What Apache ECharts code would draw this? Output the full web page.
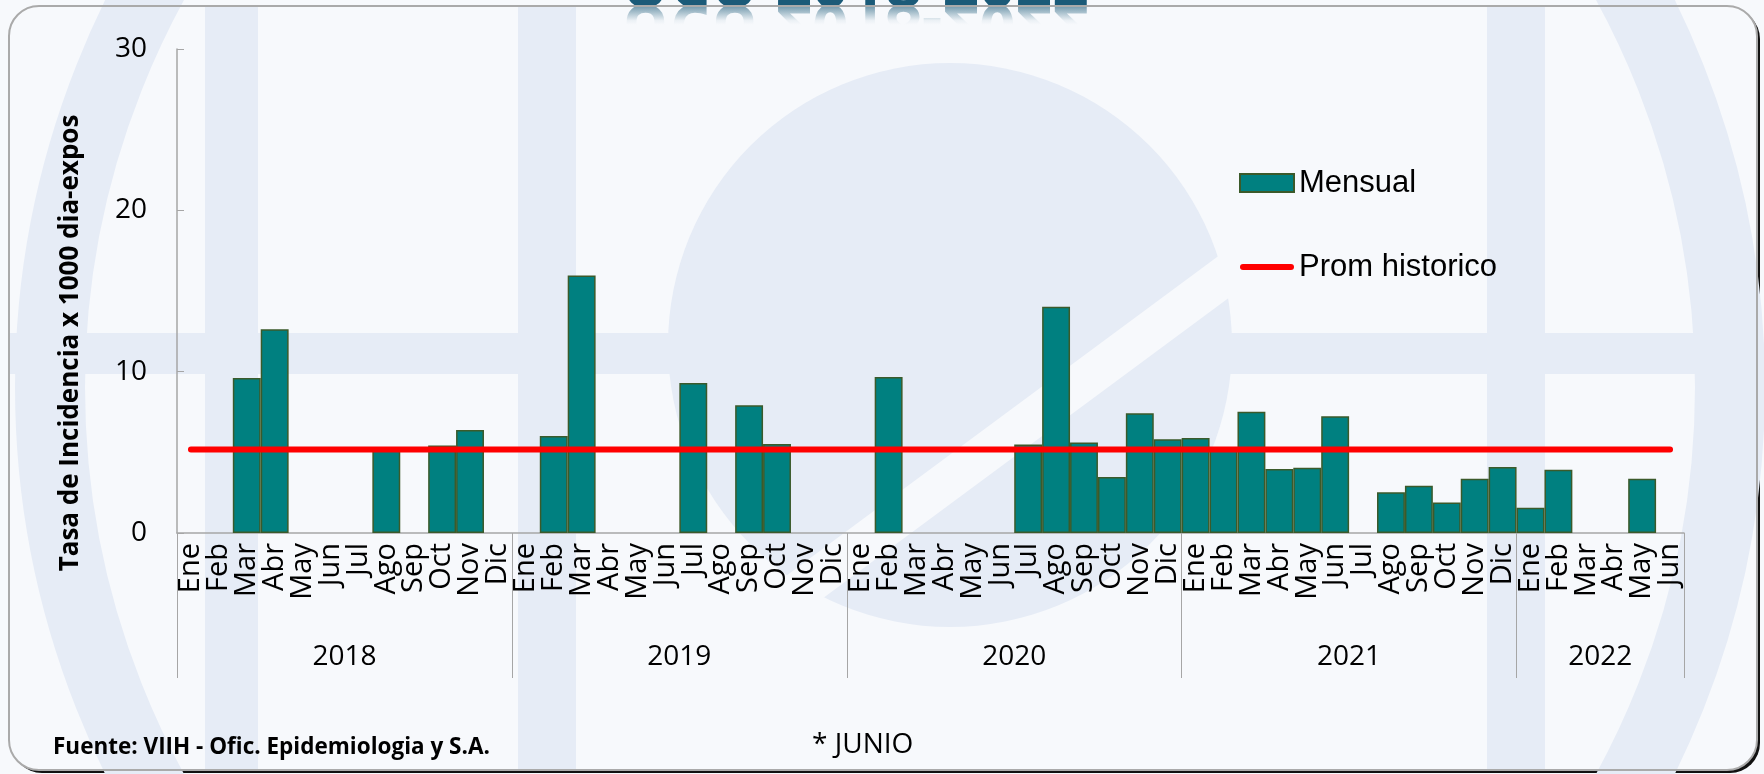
<!DOCTYPE html>
<html>
<head>
<meta charset="utf-8">
<script src="https://cdn.jsdelivr.net/npm/echarts@6/dist/echarts.min.js"></script>
<style>
  html, body { margin: 0; padding: 0; background: #f6f9fc; }
  #chart { width: 1764px; height: 774px; }
</style>
</head>
<body>
<div id="chart"></div>
<script>
// month and year labels
const monthNames = ['Ene', 'Feb', 'Mar', 'Abr', 'May', 'Jun', 'Jul', 'Ago', 'Sep', 'Oct', 'Nov', 'Dic']
const years = ['2018', '2019', '2020', '2021', '2022']
const monthsPerYear = [12, 12, 12, 12, 6]

// monthly incidence (null = no bar)
const v2018 = [null, null, 9.61, 12.63, null, null, null, 5.2, null, 5.42, 6.38, null]
const v2019 = [null, 6.01, 15.96, null, null, null, 9.30, null, 7.92, 5.52, null, null]
const v2020 = [null, 9.67, null, null, null, null, 5.48, 14.02, 5.61, 3.47, 7.43, 5.81]
const v2021 = [5.89, 5.2, 7.52, 3.96, 4.04, 7.23, null, 2.52, 2.93, 1.89, 3.37, 4.09]
const v2022 = [1.56, 3.92, null, null, 3.37, null]

// historical average, one value per month
const promHistorico = [
  5.18, 5.18, 5.18, 5.18, 5.18, 5.18, 5.18, 5.18, 5.18, 5.18, 5.18, 5.18,
  5.18, 5.18, 5.18, 5.18, 5.18, 5.18, 5.18, 5.18, 5.18, 5.18, 5.18, 5.18,
  5.18, 5.18, 5.18, 5.18, 5.18, 5.18, 5.18, 5.18, 5.18, 5.18, 5.18, 5.18,
  5.18, 5.18, 5.18, 5.18, 5.18, 5.18, 5.18, 5.18, 5.18, 5.18, 5.18, 5.18,
  5.18, 5.18, 5.18, 5.18, 5.18, 5.18
]

const yTicks = [0, 10, 20, 30]

const monthCats = []
const yearCats = []
const yearLabelIdx = []
let start = 0
years.forEach((y, i) => {
  for (let m = 0; m < monthsPerYear[i]; m++) {
    monthCats.push(monthNames[m])
    yearCats.push(y)
  }
  yearLabelIdx.push(start + monthsPerYear[i] / 2)
  start += monthsPerYear[i]
})
const mensual = [].concat(v2018, v2019, v2020, v2021, v2022)

const chart = echarts.init(document.getElementById('chart'))

const water = '#e6ecf6'
const bg = '#f7f9fc'
const titleFont = 'bold 64px "Open Sans"'

const option = {
  backgroundColor: bg,
  animation: false,
  graphic: [
    // shadow + panel
    { type: 'rect', z: -20, silent: true, shape: { x: 12, y: 9, width: 1748, height: 764, r: 30 }, style: { fill: '#111' } },
    { type: 'rect', z: -19, silent: true, shape: { x: 9, y: 6, width: 1748, height: 764, r: 30 }, style: { fill: bg } },
    // watermark globe
    { type: 'circle', z: -18, silent: true, shape: { cx: 890, cy: 387, r: 840 }, style: { fill: null, stroke: water, lineWidth: 70 } },
    { type: 'circle', z: -18, silent: true, shape: { cx: 950, cy: 345, r: 282 }, style: { fill: water } },
    { type: 'rect', z: -17, silent: true, shape: { x: 9, y: 333, width: 1748, height: 41 }, style: { fill: water } },
    { type: 'rect', z: -17, silent: true, shape: { x: 205, y: 6, width: 53, height: 764 }, style: { fill: water } },
    { type: 'rect', z: -17, silent: true, shape: { x: 518, y: 6, width: 58, height: 764 }, style: { fill: water } },
    { type: 'rect', z: -17, silent: true, shape: { x: 1487, y: 6, width: 58, height: 764 }, style: { fill: water } },
    { type: 'line', z: -16, silent: true, shape: { x1: 760, y1: 620, x2: 1260, y2: 250 }, style: { stroke: bg, lineWidth: 40 } },
    // frame
    { type: 'rect', z: 50, silent: true, shape: { x: 9, y: 6, width: 1748, height: 764, r: 30 }, style: { fill: null, stroke: '#aaaaaa', lineWidth: 2 } },
    // clipped title with fading reflection
    {
      type: 'text', z: 40, silent: true, x: 855, y: 21,
      style: { text: 'UCU 2018-2022', fill: '#1b5a78', font: titleFont, align: 'center', verticalAlign: 'bottom' }
    },
    {
      type: 'text', z: 40, silent: true, x: 855, y: -9, scaleY: -1,
      style: { text: 'UCU 2018-2022', fill: '#1b5a78', font: titleFont, align: 'center', verticalAlign: 'bottom' }
    },
    {
      type: 'rect', z: 45, silent: true, shape: { x: 600, y: 6, width: 510, height: 52 },
      style: {
        fill: new echarts.graphic.LinearGradient(0, 0, 0, 1, [
          { offset: 0, color: 'rgba(247,249,252,0.4)' },
          { offset: 0.28, color: 'rgba(247,249,252,0.95)' },
          { offset: 0.36, color: 'rgba(247,249,252,1)' },
          { offset: 1, color: 'rgba(247,249,252,1)' }
        ])
      }
    },
    // axis name and notes
    {
      type: 'text', z: 40, silent: true, x: 71, y: 343, rotation: Math.PI / 2,
      style: { text: 'Tasa de Incidencia x 1000 dia-expos', font: 'bold 26px "Open Sans"', fill: '#000', align: 'center', verticalAlign: 'middle' }
    },
    {
      type: 'text', z: 40, silent: true, x: 53, y: 748,
      style: { text: 'Fuente: VIIH - Ofic. Epidemiologia y S.A.', font: 'bold 22.5px "Open Sans"', fill: '#000', align: 'left', verticalAlign: 'middle' }
    },
    {
      type: 'text', z: 40, silent: true, x: 812, y: 745,
      style: { text: '* JUNIO', font: '28px "Open Sans"', fill: '#000', align: 'left', verticalAlign: 'middle' }
    }
  ],
  legend: {
    orient: 'vertical',
    left: 1234,
    top: 160,
    itemWidth: 54,
    itemHeight: 18,
    itemGap: 48,
    textStyle: { fontFamily: '"Liberation Sans", Arial', fontSize: 31, lineHeight: 36, color: '#000' },
    data: [
      { name: 'Mensual', icon: 'rect' },
      { name: 'Prom historico', icon: 'path://M3,0 L51,0 A3,3 0 0 1 51,6 L3,6 A3,3 0 0 1 3,0 Z' }
    ]
  },
  grid: { left: 177, right: 80, top: 49, bottom: 241, containLabel: false },
  xAxis: [
    {
      type: 'category',
      data: monthCats,
      axisLine: { lineStyle: { color: '#a6a6a6', width: 1.5 } },
      axisTick: { show: false },
      axisLabel: {
        interval: 0, rotate: 90, margin: 10, color: '#000',
        fontFamily: '"Open Sans"', fontSize: 29
      }
    },
    {
      type: 'category',
      data: yearCats,
      position: 'bottom',
      axisLine: { show: false },
      axisTick: {
        show: true, length: 145,
        interval: (i) => i % 12 === 0,
        lineStyle: { color: '#a6a6a6', width: 1 }
      },
      axisLabel: {
        interval: (i) => yearLabelIdx.indexOf(i) >= 0,
        margin: 110, color: '#000',
        fontFamily: '"Open Sans"', fontSize: 28,
        padding: [0, 28, 0, 0]
      }
    }
  ],
  yAxis: {
    type: 'value',
    min: yTicks[0],
    max: yTicks[yTicks.length - 1],
    interval: 10,
    axisLine: { show: true, lineStyle: { color: '#a6a6a6', width: 1.5 } },
    axisTick: { show: true, inside: true, length: 7, lineStyle: { color: '#a6a6a6' } },
    splitLine: { show: false },
    axisLabel: { margin: 30, color: '#000', fontFamily: '"Open Sans"', fontSize: 28 }
  },
  series: [
    {
      name: 'Mensual',
      type: 'bar',
      xAxisIndex: 0,
      data: mensual,
      barCategoryGap: '0%',
      itemStyle: { color: '#008080', borderColor: '#3b5a2a', borderWidth: 1.5 }
    },
    {
      name: 'Prom historico',
      type: 'line',
      xAxisIndex: 0,
      data: promHistorico,
      symbol: 'none',
      z: 5,
      itemStyle: { color: '#ff0000' },
      lineStyle: { color: '#ff0000', width: 6, cap: 'round' }
    }
  ]
}

chart.setOption(option)
</script>
</body>
</html>
